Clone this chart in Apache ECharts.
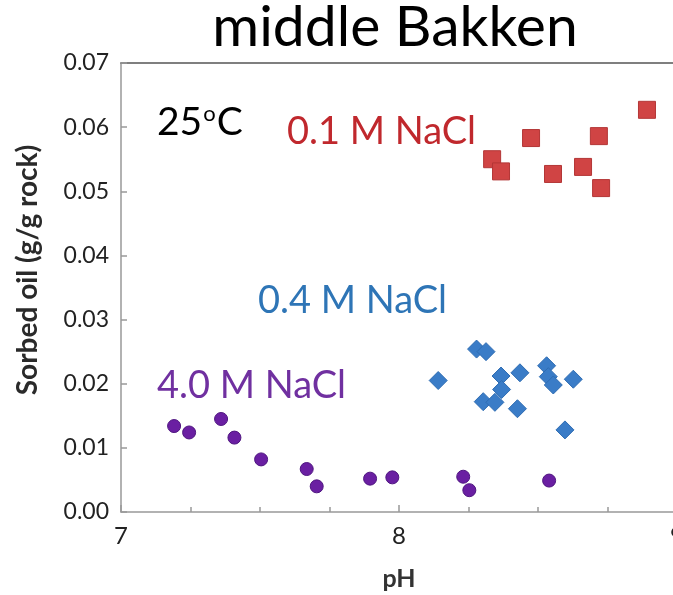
<!DOCTYPE html>
<html>
<head>
<meta charset="utf-8">
<script src="https://cdn.jsdelivr.net/npm/echarts@6/dist/echarts.min.js"></script>
<style>
  html, body { margin: 0; padding: 0; background: #fff; }
  #chart { width: 673px; height: 595px; }
</style>
</head>
<body>
<div id="chart"></div>
<script>
// Sorbed oil on middle Bakken rock vs. pH at three brine strengths
const nacl01_pH   = [8.335, 8.367, 8.475, 8.554, 8.662, 8.719, 8.727, 8.892];
const nacl01_oil  = [0.0550, 0.0531, 0.0583, 0.0527, 0.0538, 0.0586, 0.0505, 0.0627];

const nacl04_pH   = [8.141, 8.279, 8.313, 8.367, 8.369, 8.435, 8.303, 8.345, 8.426, 8.531, 8.537, 8.555, 8.627, 8.597];
const nacl04_oil  = [0.0205, 0.0254, 0.0250, 0.0212, 0.0191, 0.0217, 0.0172, 0.0171, 0.0161, 0.0228, 0.0211, 0.0198, 0.0207, 0.0128];

const nacl40_pH   = [7.191, 7.245, 7.360, 7.408, 7.504, 7.668, 7.704, 7.896, 7.976, 8.231, 8.253, 8.540];
const nacl40_oil  = [0.0134, 0.0124, 0.0145, 0.0116, 0.0082, 0.0067, 0.0040, 0.0052, 0.0054, 0.0055, 0.0034, 0.0049];

const xTicks = [7, 8, 9];
const yTicks = [0, 0.01, 0.02, 0.03, 0.04, 0.05, 0.06, 0.07];

const FONT = 'Lato';

function pairs(xs, ys) { return xs.map((x, i) => [x, ys[i]]); }

const chart = echarts.init(document.getElementById('chart'), null, { renderer: 'canvas' });

chart.setOption({
  backgroundColor: '#ffffff',
  animation: false,
  textStyle: { fontFamily: FONT },
  grid: { left: 121, right: -4, top: 63, bottom: 83, containLabel: false, outerBoundsMode: 'none' },
  xAxis: [{
    type: 'value',
    min: xTicks[0], max: xTicks[xTicks.length - 1], interval: 1,
    name: 'pH', nameLocation: 'middle', nameGap: 54,
    nameTextStyle: { fontFamily: FONT, fontSize: 25, fontWeight: 'bold', color: '#333' },
    axisLine: { show: true, lineStyle: { color: '#999', width: 1.5 } },
    axisTick: { show: true, inside: true, length: 7, lineStyle: { color: '#999', width: 1.5 } },
    minorTick: { show: true, splitNumber: 4, length: 5, lineStyle: { color: '#999', width: 1.5 } },
    axisLabel: { show: true, margin: 12, fontFamily: FONT, fontSize: 24, color: '#222' },
    splitLine: { show: false }
  }, {
    // upper frame line of the plot box
    type: 'value', position: 'top',
    min: xTicks[0], max: xTicks[xTicks.length - 1],
    axisLine: { show: true, lineStyle: { color: '#555', width: 1.5 } },
    axisTick: { show: false }, axisLabel: { show: false }, splitLine: { show: false }
  }],
  yAxis: {
    type: 'value',
    min: yTicks[0], max: yTicks[yTicks.length - 1], interval: 0.01,
    axisLine: { show: true, lineStyle: { color: '#999', width: 1.5 } },
    axisTick: { show: true, inside: true, length: 6, lineStyle: { color: '#999', width: 1.5 } },
    axisLabel: {
      show: true, margin: 12, fontFamily: FONT, fontSize: 23, color: '#222',
      formatter: v => v.toFixed(2)
    },
    splitLine: { show: false }
  },
  graphic: [
    {
      type: 'text', x: 395, y: 28,
      style: {
        text: 'middle Bakken', fontFamily: FONT, fontSize: 57, fill: '#000',
        align: 'center', verticalAlign: 'middle'
      }
    },
    {
      type: 'text', x: 28, y: 270, rotation: Math.PI / 2,
      style: {
        text: 'Sorbed oil (g/g rock)', fontFamily: FONT, fontSize: 28,
        fontWeight: 'bold', fill: '#2a2a2a', align: 'center', verticalAlign: 'middle'
      }
    },
    {
      type: 'text', x: 157, y: 122,
      style: {
        text: '{n|25}{s|o}{n|C}', fontFamily: FONT, verticalAlign: 'middle',
        rich: {
          n: { fontFamily: FONT, fontSize: 39, fill: '#000', verticalAlign: 'bottom' },
          s: { fontFamily: FONT, fontSize: 22, fill: '#000', verticalAlign: 'top', padding: [0, 1, 16, 1] }
        }
      }
    },
    {
      type: 'text', x: 287, y: 132,
      style: { text: '0.1 M NaCl', fontFamily: FONT, fontSize: 38, fill: '#c0282d', verticalAlign: 'middle' }
    },
    {
      type: 'text', x: 258, y: 301,
      style: { text: '0.4 M NaCl', fontFamily: FONT, fontSize: 38, fill: '#2e75b6', verticalAlign: 'middle' }
    },
    {
      type: 'text', x: 157, y: 386,
      style: { text: '4.0 M NaCl', fontFamily: FONT, fontSize: 38, fill: '#7030a0', verticalAlign: 'middle' }
    }
  ],
  series: [
    {
      name: '0.1 M NaCl', type: 'scatter', symbol: 'rect', symbolSize: 17,
      data: pairs(nacl01_pH, nacl01_oil),
      itemStyle: { color: '#d04444', borderColor: '#b33636', borderWidth: 1, opacity: 1 }
    },
    {
      name: '0.4 M NaCl', type: 'scatter', symbol: 'diamond', symbolSize: [18, 18],
      data: pairs(nacl04_pH, nacl04_oil),
      itemStyle: { color: '#3a7cc7', borderColor: '#2f6db3', borderWidth: 1, opacity: 1 }
    },
    {
      name: '4.0 M NaCl', type: 'scatter', symbol: 'circle', symbolSize: 13,
      data: pairs(nacl40_pH, nacl40_oil),
      itemStyle: { color: '#6a1fa2', borderColor: '#4f1680', borderWidth: 1, opacity: 1 }
    }
  ]
});
</script>
</body>
</html>
